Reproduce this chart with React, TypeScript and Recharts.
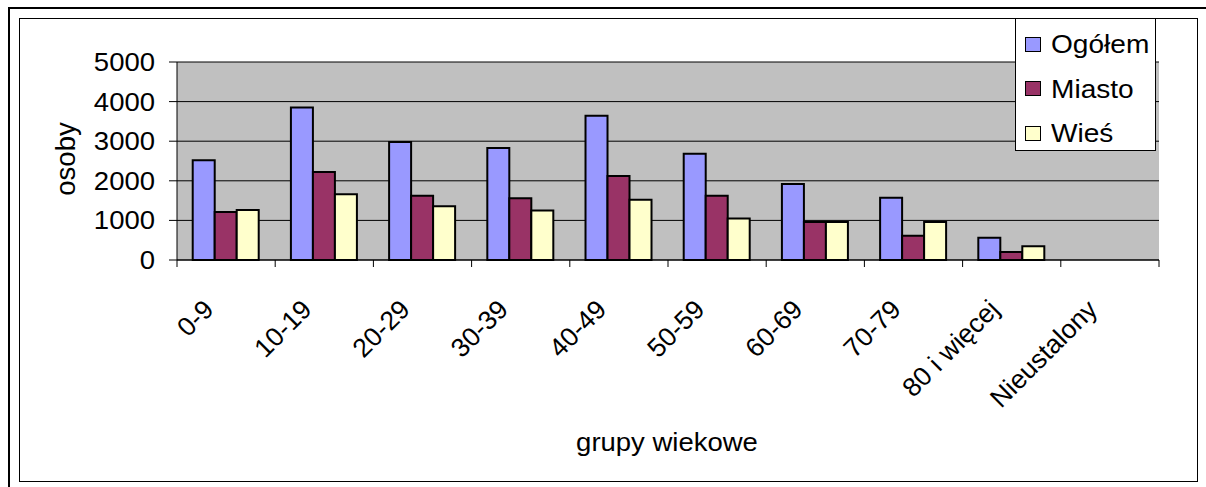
import React from 'react';
import { BarChart, Bar, XAxis, YAxis, CartesianGrid, Legend } from 'recharts';

// age groups on the x axis
const categories = ['0-9', '10-19', '20-29', '30-39', '40-49', '50-59', '60-69', '70-79', '80 i więcej', 'Nieustalony'];
const ogolem = [2520, 3850, 2980, 2830, 3640, 2680, 1920, 1570, 560, 0];
const miasto = [1210, 2220, 1620, 1560, 2120, 1620, 960, 610, 200, 0];
const wies = [1260, 1660, 1360, 1250, 1520, 1050, 960, 960, 350, 0];
const yTicks = [0, 1000, 2000, 3000, 4000, 5000];

const series = [
  { key: 'ogolem', name: 'Ogółem', color: '#9999FF' },
  { key: 'miasto', name: 'Miasto', color: '#993366' },
  { key: 'wies', name: 'Wieś', color: '#FFFFCC' },
];

const data = categories.map((cat, i) => ({
  cat,
  ogolem: ogolem[i],
  miasto: miasto[i],
  wies: wies[i],
}));

const FONT = '"Liberation Sans", Arial, sans-serif';

const XTick = (props: any) => {
  const { x, y, payload, index, visibleTicksCount } = props;
  const half = payload && payload.offset ? payload.offset : 49.1;
  const tx = x - 11;
  const ty = y + 51;
  return (
    <g>
      <line x1={x - half} x2={x - half} y1={y} y2={y + 7} stroke="#000" />
      {index === visibleTicksCount - 1 && (
        <line x1={x + half} x2={x + half} y1={y} y2={y + 7} stroke="#000" />
      )}
      <text
        x={tx}
        y={ty}
        transform={`rotate(-45, ${tx}, ${ty})`}
        textAnchor="end"
        fontSize={26.5}
        fontFamily={FONT}
        fill="#000"
      >
        {payload.value}
      </text>
    </g>
  );
};

const YTick = (props: any) => {
  const { x, y, payload } = props;
  return (
    <text
      transform={`translate(${x}, ${y + 9}) scale(1.1, 1)`}
      textAnchor="end"
      fontSize={25}
      fontFamily={FONT}
      fill="#000"
    >
      {payload.value}
    </text>
  );
};

const renderLegend = () => (
  <div
    style={{
      width: 141,
      height: 133,
      border: '1px solid #000',
      background: '#fff',
      boxSizing: 'border-box',
      position: 'relative',
      fontFamily: FONT,
    }}
  >
    {series.map((s, i) => (
      <div
        key={s.key}
        style={{ position: 'absolute', left: 9, top: 8 + i * 44.5, height: 34, display: 'flex', alignItems: 'center' }}
      >
        <span
          style={{
            display: 'inline-block',
            width: 14,
            height: 13,
            border: '1px solid #000',
            background: s.color,
          }}
        />
        <span
          style={{
            marginLeft: 10,
            fontSize: 26,
            lineHeight: '34px',
            color: '#000',
            display: 'inline-block',
            transform: 'scaleX(1.08)',
            transformOrigin: 'left center',
            whiteSpace: 'nowrap',
          }}
        >
          {s.name}
        </span>
      </div>
    ))}
  </div>
);

export default function App() {
  return (
    <div style={{ position: 'absolute', left: 0, top: 0, width: 1206, height: 487, background: '#fff', overflow: 'hidden' }}>
      <div
        style={{
          position: 'absolute',
          left: 8,
          top: 7,
          width: 1300,
          height: 600,
          borderLeft: '2px solid #000',
          borderTop: '2px solid #000',
        }}
      />
      <div
        style={{
          position: 'absolute',
          left: 19,
          top: 18,
          width: 1179,
          height: 464,
          border: '1px solid #000',
          boxSizing: 'border-box',
        }}
      />
      <div style={{ position: 'absolute', left: 0, top: 0 }}>
        <BarChart
          width={1206}
          height={487}
          data={data}
          margin={{ top: 62, right: 47, bottom: 0, left: 20 }}
          barCategoryGap="16%"
          barGap={0}
        >
          <CartesianGrid vertical={false} stroke="#000" fill="#C0C0C0" fillOpacity={1} />
          <XAxis
            xAxisId="top"
            orientation="top"
            dataKey="cat"
            height={0}
            tick={false}
            tickLine={false}
            axisLine={{ stroke: '#808080', strokeWidth: 1.5 }}
          />
          <YAxis
            yAxisId="right"
            orientation="right"
            width={0}
            domain={[0, 5000]}
            ticks={yTicks}
            tick={false}
            tickLine={false}
            axisLine={{ stroke: '#808080', strokeWidth: 1.5 }}
          />
          <XAxis
            dataKey="cat"
            height={227}
            interval={0}
            tickSize={0}
            tickMargin={0}
            tickLine={false}
            tick={<XTick />}
            axisLine={{ stroke: '#000' }}
            label={{
              content: (p: any) => {
                const vb = p.viewBox || { x: 177, y: 260, width: 982 };
                const cx = vb.x + vb.width / 2 - 1;
                const cy = vb.y + 191;
                return (
                  <text
                    transform={`translate(${cx}, ${cy}) scale(1.1, 1)`}
                    textAnchor="middle"
                    fontSize={25}
                    fontFamily={FONT}
                    fill="#000"
                  >
                    grupy wiekowe
                  </text>
                );
              },
            }}
          />
          <YAxis
            width={157}
            domain={[0, 5000]}
            ticks={yTicks}
            interval={0}
            tickSize={8}
            tickMargin={14}
            tick={<YTick />}
            tickLine={{ stroke: '#000' }}
            axisLine={{ stroke: '#000' }}
            label={{
              content: (p: any) => {
                const vb = p.viewBox || { x: 20, y: 62, height: 198 };
                const lx = vb.x + 55;
                const ly = vb.y + vb.height / 2 - 2;
                return (
                  <text
                    x={lx}
                    y={ly}
                    transform={`rotate(-90, ${lx}, ${ly})`}
                    textAnchor="middle"
                    fontSize={27.5}
                    fontFamily={FONT}
                    fill="#000"
                  >
                    osoby
                  </text>
                );
              },
            }}
          />
          <Legend
            layout="horizontal"
            verticalAlign="middle"
            align="center"
            content={renderLegend}
            wrapperStyle={{ position: 'absolute', left: 1015, top: 18, width: 141, height: 133 }}
          />
          {series.map((s) => (
            <Bar
              key={s.key}
              dataKey={s.key}
              name={s.name}
              fill={s.color}
              stroke="#000"
              strokeWidth={2}
              isAnimationActive={false}
            />
          ))}
        </BarChart>
      </div>
    </div>
  );
}
